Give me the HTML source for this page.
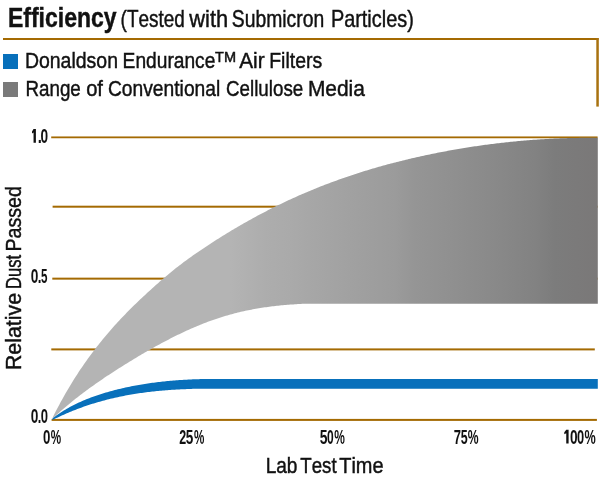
<!DOCTYPE html>
<html><head><meta charset="utf-8"><style>
html,body{margin:0;padding:0;background:#fff;}
body{width:600px;height:479px;overflow:hidden;}
svg{display:block;will-change:transform;}
text{font-family:"Liberation Sans",sans-serif;font-variant-ligatures:none;font-kerning:none;}
</style></head><body>
<svg width="600" height="479" viewBox="0 0 600 479">
<defs>
<linearGradient id="g" gradientUnits="userSpaceOnUse" x1="51" y1="0" x2="598" y2="0">
<stop offset="0.0000" stop-color="#b4b4b4"/>
<stop offset="0.3272" stop-color="#b4b4b4"/>
<stop offset="0.3547" stop-color="#b1b1b1"/>
<stop offset="0.3912" stop-color="#adadad"/>
<stop offset="0.4369" stop-color="#aaaaaa"/>
<stop offset="0.4826" stop-color="#a6a6a6"/>
<stop offset="0.5466" stop-color="#a1a1a1"/>
<stop offset="0.6289" stop-color="#9b9b9b"/>
<stop offset="0.6654" stop-color="#959595"/>
<stop offset="0.7294" stop-color="#909090"/>
<stop offset="0.8117" stop-color="#898989"/>
<stop offset="0.8848" stop-color="#828282"/>
<stop offset="0.9214" stop-color="#7c7c7c"/>
<stop offset="1.0000" stop-color="#7a7878"/>
</linearGradient>
</defs>
<g fill="#111" stroke="#111" stroke-width="0.45">
<text x="8.00" y="26.50" font-size="27.00" font-weight="bold" textLength="108.50" lengthAdjust="spacingAndGlyphs">Efficiency</text>
<text x="120.58" y="26.50" font-size="24.00" textLength="64.19" lengthAdjust="spacingAndGlyphs">(Tested</text>
<text x="189.35" y="26.50" font-size="24.00" textLength="38.85" lengthAdjust="spacingAndGlyphs">with</text>
<text x="231.81" y="26.50" font-size="24.00" textLength="92.45" lengthAdjust="spacingAndGlyphs">Submicron</text>
<text x="330.88" y="26.50" font-size="24.00" textLength="82.94" lengthAdjust="spacingAndGlyphs">Particles)</text>
<text x="24.90" y="67.60" font-size="22.50" textLength="93.08" lengthAdjust="spacingAndGlyphs">Donaldson</text>
<text x="122.62" y="67.60" font-size="22.50" textLength="92.75" lengthAdjust="spacingAndGlyphs">Endurance</text>
<text x="239.15" y="67.60" font-size="22.50" textLength="25.41" lengthAdjust="spacingAndGlyphs">Air</text>
<text x="269.20" y="67.60" font-size="22.50" textLength="52.99" lengthAdjust="spacingAndGlyphs">Filters</text>
<text x="215.00" y="61.50" font-size="13.80" textLength="21.00" lengthAdjust="spacingAndGlyphs">TM</text>
<text x="25.45" y="95.70" font-size="22.50" textLength="55.38" lengthAdjust="spacingAndGlyphs">Range</text>
<text x="86.15" y="95.70" font-size="22.50" textLength="16.82" lengthAdjust="spacingAndGlyphs">of</text>
<text x="107.92" y="95.70" font-size="22.50" textLength="112.36" lengthAdjust="spacingAndGlyphs">Conventional</text>
<text x="226.04" y="95.70" font-size="22.50" textLength="77.19" lengthAdjust="spacingAndGlyphs">Cellulose</text>
<text x="307.88" y="95.70" font-size="22.50" textLength="57.05" lengthAdjust="spacingAndGlyphs">Media</text>
</g>
<rect x="3" y="38" width="595.5" height="2" fill="#a46a02"/>
<rect x="596.3" y="38" width="2.5" height="68.6" fill="#a87210"/>
<rect x="3" y="54" width="15" height="15" fill="#0870bb"/>
<rect x="3" y="82" width="15" height="15" fill="#7a7a7a"/>
<rect x="51.2" y="136.45" width="546.40" height="1.8" fill="#a46a02"/><rect x="52.6" y="205.70" width="545.00" height="2.0" fill="#a46a02"/><rect x="52.3" y="277.65" width="545.30" height="2.0" fill="#a46a02"/><rect x="51.3" y="348.40" width="543.50" height="2.0" fill="#a46a02"/><rect x="51.6" y="418.90" width="545.30" height="2.0" fill="#a46a02"/>
<path d="M51.8,419.80 53.3,416.29 54.8,413.30 56.3,410.37 57.8,407.49 59.3,404.66 60.8,401.87 62.3,399.14 63.8,396.45 65.3,393.80 66.8,391.20 68.3,388.65 69.8,386.13 71.3,383.66 72.8,381.22 74.3,378.83 75.8,376.47 77.3,374.15 78.8,371.86 80.3,369.61 81.8,367.39 83.3,365.20 84.8,363.05 86.3,360.92 87.8,358.82 89.3,356.75 90.8,354.71 92.3,352.69 93.8,350.70 95.3,348.74 96.8,346.80 98.3,344.89 99.8,343.00 101.3,341.14 102.8,339.30 104.3,337.48 105.8,335.68 107.3,333.91 108.8,332.15 110.3,330.42 111.8,328.71 113.3,327.02 114.8,325.34 116.3,323.69 117.8,322.05 119.3,320.43 120.8,318.83 122.3,317.25 123.8,315.68 125.3,314.13 126.8,312.59 128.3,311.06 129.8,309.56 131.3,308.06 132.8,306.58 134.3,305.11 135.8,303.65 137.3,302.21 138.8,300.77 140.3,299.35 141.8,297.93 143.3,296.53 144.8,295.13 146.3,293.75 147.8,292.37 149.3,290.99 150.8,289.63 152.3,288.27 153.8,286.92 155.3,285.58 156.8,284.25 158.3,282.92 159.8,281.61 161.3,280.30 162.8,279.00 164.3,277.72 165.8,276.44 167.3,275.18 168.8,273.93 170.3,272.69 171.8,271.46 173.3,270.25 174.8,269.05 176.3,267.87 177.8,266.69 179.3,265.53 180.8,264.38 182.3,263.25 183.8,262.12 185.3,261.00 186.8,259.90 188.3,258.81 189.8,257.72 191.3,256.65 192.8,255.59 194.3,254.53 195.8,253.49 197.3,252.45 198.8,251.42 200.3,250.40 201.8,249.38 203.3,248.38 204.8,247.38 206.3,246.38 207.8,245.40 209.3,244.41 210.8,243.44 212.3,242.47 213.8,241.50 215.3,240.55 216.8,239.59 218.3,238.64 219.8,237.70 221.3,236.76 222.8,235.83 224.3,234.90 225.8,233.98 227.3,233.07 228.8,232.16 230.3,231.25 231.8,230.35 233.3,229.46 234.8,228.57 236.3,227.68 237.8,226.80 239.3,225.93 240.8,225.06 242.3,224.20 243.8,223.34 245.3,222.49 246.8,221.65 248.3,220.81 249.8,219.97 251.3,219.14 252.8,218.32 254.3,217.50 255.8,216.68 257.3,215.87 258.8,215.07 260.3,214.27 261.8,213.48 263.3,212.69 264.8,211.91 266.3,211.13 267.8,210.36 269.3,209.59 270.8,208.83 272.3,208.08 273.8,207.33 275.3,206.58 276.8,205.84 278.3,205.11 279.8,204.38 281.3,203.66 282.8,202.94 284.3,202.22 285.8,201.52 287.3,200.81 288.8,200.12 290.3,199.42 291.8,198.74 293.3,198.05 294.8,197.38 296.3,196.70 297.8,196.04 299.3,195.37 300.8,194.72 302.3,194.07 303.8,193.42 305.3,192.78 306.8,192.14 308.3,191.51 309.8,190.88 311.3,190.26 312.8,189.64 314.3,189.03 315.8,188.42 317.3,187.81 318.8,187.21 320.3,186.62 321.8,186.03 323.3,185.45 324.8,184.87 326.3,184.29 327.8,183.72 329.3,183.15 330.8,182.59 332.3,182.03 333.8,181.48 335.3,180.93 336.8,180.39 338.3,179.85 339.8,179.31 341.3,178.78 342.8,178.26 344.3,177.73 345.8,177.22 347.3,176.70 348.8,176.19 350.3,175.69 351.8,175.19 353.3,174.69 354.8,174.20 356.3,173.71 357.8,173.22 359.3,172.74 360.8,172.27 362.3,171.80 363.8,171.33 365.3,170.87 366.8,170.41 368.3,169.95 369.8,169.50 371.3,169.05 372.8,168.61 374.3,168.17 375.8,167.73 377.3,167.30 378.8,166.87 380.3,166.44 381.8,166.02 383.3,165.60 384.8,165.19 386.3,164.78 387.8,164.37 389.3,163.97 390.8,163.57 392.3,163.18 393.8,162.78 395.3,162.40 396.8,162.01 398.3,161.63 399.8,161.25 401.3,160.88 402.8,160.51 404.3,160.14 405.8,159.77 407.3,159.41 408.8,159.06 410.3,158.70 411.8,158.35 413.3,158.00 414.8,157.66 416.3,157.32 417.8,156.98 419.3,156.65 420.8,156.32 422.3,155.99 423.8,155.66 425.3,155.34 426.8,155.02 428.3,154.71 429.8,154.39 431.3,154.08 432.8,153.78 434.3,153.47 435.8,153.17 437.3,152.87 438.8,152.58 440.3,152.29 441.8,152.00 443.3,151.71 444.8,151.43 446.3,151.15 447.8,150.87 449.3,150.59 450.8,150.32 452.3,150.05 453.8,149.79 455.3,149.52 456.8,149.26 458.3,149.00 459.8,148.75 461.3,148.50 462.8,148.25 464.3,148.00 465.8,147.76 467.3,147.52 468.8,147.28 470.3,147.05 471.8,146.82 473.3,146.59 474.8,146.36 476.3,146.14 477.8,145.92 479.3,145.70 480.8,145.49 482.3,145.28 483.8,145.07 485.3,144.87 486.8,144.66 488.3,144.47 489.8,144.27 491.3,144.08 492.8,143.89 494.3,143.70 495.8,143.51 497.3,143.33 498.8,143.15 500.3,142.98 501.8,142.80 503.3,142.63 504.8,142.47 506.3,142.30 507.8,142.14 509.3,141.98 510.8,141.83 512.3,141.67 513.8,141.53 515.3,141.38 516.8,141.23 518.3,141.09 519.8,140.96 521.3,140.82 522.8,140.69 524.3,140.56 525.8,140.43 527.3,140.31 528.8,140.19 530.3,140.07 531.8,139.96 533.3,139.85 534.8,139.74 536.3,139.63 537.8,139.53 539.3,139.43 540.8,139.34 542.3,139.24 543.8,139.15 545.3,139.06 546.8,138.98 548.3,138.90 549.8,138.82 551.3,138.74 552.8,138.67 554.3,138.60 555.8,138.53 557.3,138.47 558.8,138.41 560.3,138.35 561.8,138.29 563.3,138.24 564.8,138.19 566.3,138.15 567.8,138.10 569.3,138.06 570.8,138.02 572.3,137.99 573.8,137.96 575.3,137.93 576.8,137.90 578.3,137.88 579.8,137.86 581.3,137.85 582.8,137.83 584.3,137.82 585.8,137.81 587.3,137.81 588.8,137.81 590.3,137.81 591.8,137.81 593.3,137.82 594.8,137.83 596.3,137.84 597.8,137.86 L597.8,303.70 369.8,303.70 368.3,303.70 366.8,303.70 365.3,303.70 363.8,303.70 362.3,303.70 360.8,303.70 359.3,303.70 357.8,303.70 356.3,303.70 354.8,303.70 353.3,303.70 351.8,303.70 350.3,303.70 348.8,303.70 347.3,303.70 345.8,303.70 344.3,303.70 342.8,303.70 341.3,303.70 339.8,303.70 338.3,303.70 336.8,303.70 335.3,303.70 333.8,303.70 332.3,303.70 330.8,303.70 329.3,303.70 327.8,303.70 326.3,303.70 324.8,303.70 323.3,303.70 321.8,303.70 320.3,303.70 318.8,303.70 317.3,303.70 315.8,303.70 314.3,303.70 312.8,303.70 311.3,303.70 309.8,303.70 308.3,303.70 306.8,303.70 305.3,303.73 303.8,303.79 302.3,303.86 300.8,303.93 299.3,304.01 297.8,304.10 296.3,304.18 294.8,304.28 293.3,304.38 291.8,304.48 290.3,304.59 288.8,304.70 287.3,304.82 285.8,304.95 284.3,305.08 282.8,305.22 281.3,305.36 279.8,305.51 278.3,305.67 276.8,305.83 275.3,306.00 273.8,306.17 272.3,306.35 270.8,306.54 269.3,306.74 267.8,306.94 266.3,307.15 264.8,307.36 263.3,307.59 261.8,307.82 260.3,308.06 258.8,308.30 257.3,308.55 255.8,308.82 254.3,309.08 252.8,309.36 251.3,309.65 249.8,309.94 248.3,310.24 246.8,310.55 245.3,310.87 243.8,311.19 242.3,311.53 240.8,311.87 239.3,312.23 237.8,312.59 236.3,312.96 234.8,313.34 233.3,313.73 231.8,314.13 230.3,314.54 228.8,314.95 227.3,315.38 225.8,315.82 224.3,316.27 222.8,316.72 221.3,317.19 219.8,317.67 218.3,318.16 216.8,318.65 215.3,319.16 213.8,319.68 212.3,320.21 210.8,320.75 209.3,321.30 207.8,321.85 206.3,322.42 204.8,323.00 203.3,323.58 201.8,324.18 200.3,324.78 198.8,325.39 197.3,326.01 195.8,326.64 194.3,327.28 192.8,327.93 191.3,328.59 189.8,329.25 188.3,329.93 186.8,330.61 185.3,331.30 183.8,331.99 182.3,332.70 180.8,333.41 179.3,334.13 177.8,334.86 176.3,335.59 174.8,336.34 173.3,337.09 171.8,337.85 170.3,338.61 168.8,339.38 167.3,340.16 165.8,340.94 164.3,341.74 162.8,342.54 161.3,343.34 159.8,344.15 158.3,344.97 156.8,345.79 155.3,346.62 153.8,347.46 152.3,348.30 150.8,349.15 149.3,350.00 147.8,350.86 146.3,351.72 144.8,352.59 143.3,353.47 141.8,354.35 140.3,355.23 138.8,356.12 137.3,357.02 135.8,357.92 134.3,358.82 132.8,359.73 131.3,360.64 129.8,361.56 128.3,362.48 126.8,363.41 125.3,364.34 123.8,365.27 122.3,366.21 120.8,367.15 119.3,368.10 117.8,369.05 116.3,370.01 114.8,370.97 113.3,371.94 111.8,372.91 110.3,373.89 108.8,374.88 107.3,375.87 105.8,376.87 104.3,377.87 102.8,378.89 101.3,379.91 99.8,380.93 98.3,381.97 96.8,383.01 95.3,384.07 93.8,385.13 92.3,386.20 90.8,387.27 89.3,388.36 87.8,389.46 86.3,390.57 84.8,391.68 83.3,392.81 81.8,393.95 80.3,395.09 78.8,396.25 77.3,397.42 75.8,398.60 74.3,399.80 72.8,401.00 71.3,402.22 69.8,403.45 68.3,404.69 66.8,405.94 65.3,407.21 63.8,408.49 62.3,409.78 60.8,411.09 59.3,412.41 57.8,413.74 56.3,415.09 54.8,416.46 53.3,417.83 51.8,419.80 Z" fill="url(#g)"/>
<path d="M51.8,419.80 53.3,417.86 54.8,416.71 56.3,415.59 57.8,414.51 59.3,413.47 60.8,412.46 62.3,411.49 63.8,410.55 65.3,409.63 66.8,408.75 68.3,407.89 69.8,407.07 71.3,406.26 72.8,405.48 74.3,404.73 75.8,404.00 77.3,403.28 78.8,402.59 80.3,401.91 81.8,401.26 83.3,400.61 84.8,399.99 86.3,399.37 87.8,398.78 89.3,398.19 90.8,397.62 92.3,397.06 93.8,396.52 95.3,395.99 96.8,395.47 98.3,394.96 99.8,394.47 101.3,393.99 102.8,393.52 104.3,393.06 105.8,392.61 107.3,392.17 108.8,391.74 110.3,391.32 111.8,390.91 113.3,390.51 114.8,390.12 116.3,389.74 117.8,389.37 119.3,389.00 120.8,388.65 122.3,388.30 123.8,387.96 125.3,387.62 126.8,387.29 128.3,386.98 129.8,386.66 131.3,386.36 132.8,386.06 134.3,385.77 135.8,385.49 137.3,385.21 138.8,384.94 140.3,384.68 141.8,384.43 143.3,384.18 144.8,383.94 146.3,383.70 147.8,383.48 149.3,383.25 150.8,383.04 152.3,382.83 153.8,382.63 155.3,382.43 156.8,382.24 158.3,382.06 159.8,381.88 161.3,381.71 162.8,381.54 164.3,381.38 165.8,381.23 167.3,381.08 168.8,380.94 170.3,380.80 171.8,380.67 173.3,380.54 174.8,380.42 176.3,380.30 177.8,380.19 179.3,380.09 180.8,379.99 182.3,379.89 183.8,379.80 185.3,379.71 186.8,379.63 188.3,379.56 189.8,379.48 191.3,379.41 192.8,379.35 194.3,379.29 195.8,379.23 197.3,379.18 198.8,379.13 200.3,379.08 201.8,379.04 203.3,379.00 204.8,378.96 206.3,378.93 207.8,378.90 209.3,378.90 210.8,378.90 212.3,378.90 213.8,378.90 215.3,378.90 216.8,378.90 218.3,378.90 219.8,378.90 221.3,378.90 222.8,378.90 224.3,378.90 225.8,378.90 227.3,378.90 228.8,378.90 230.3,378.90 231.8,378.90 233.3,378.90 234.8,378.90 236.3,378.90 237.8,378.90 239.3,378.90 240.8,378.90 242.3,378.90 243.8,378.90 245.3,378.90 246.8,378.90 248.3,378.90 249.8,378.90 251.3,378.90 252.8,378.90 254.3,378.90 255.8,378.90 257.3,378.90 258.8,378.90 260.3,378.90 261.8,378.90 263.3,378.90 264.8,378.90 266.3,378.90 267.8,378.90 269.3,378.90 270.8,378.90 272.3,378.90 273.8,378.90 275.3,378.90 276.8,378.90 278.3,378.90 279.8,378.90 597.8,378.90 L597.8,388.80 279.8,388.80 278.3,388.80 276.8,388.80 275.3,388.80 273.8,388.80 272.3,388.80 270.8,388.80 269.3,388.80 267.8,388.80 266.3,388.80 264.8,388.80 263.3,388.80 261.8,388.80 260.3,388.80 258.8,388.80 257.3,388.80 255.8,388.80 254.3,388.80 252.8,388.80 251.3,388.80 249.8,388.80 248.3,388.80 246.8,388.80 245.3,388.80 243.8,388.80 242.3,388.80 240.8,388.80 239.3,388.80 237.8,388.80 236.3,388.80 234.8,388.80 233.3,388.80 231.8,388.80 230.3,388.80 228.8,388.80 227.3,388.80 225.8,388.80 224.3,388.80 222.8,388.80 221.3,388.80 219.8,388.80 218.3,388.80 216.8,388.80 215.3,388.80 213.8,388.80 212.3,388.80 210.8,388.80 209.3,388.80 207.8,388.80 206.3,388.80 204.8,388.80 203.3,388.80 201.8,388.80 200.3,388.80 198.8,388.80 197.3,388.80 195.8,388.80 194.3,388.82 192.8,388.87 191.3,388.91 189.8,388.96 188.3,389.02 186.8,389.07 185.3,389.13 183.8,389.20 182.3,389.27 180.8,389.34 179.3,389.41 177.8,389.49 176.3,389.58 174.8,389.67 173.3,389.76 171.8,389.86 170.3,389.96 168.8,390.07 167.3,390.18 165.8,390.30 164.3,390.42 162.8,390.55 161.3,390.68 159.8,390.82 158.3,390.96 156.8,391.11 155.3,391.26 153.8,391.42 152.3,391.58 150.8,391.75 149.3,391.93 147.8,392.11 146.3,392.30 144.8,392.50 143.3,392.70 141.8,392.90 140.3,393.12 138.8,393.34 137.3,393.56 135.8,393.80 134.3,394.04 132.8,394.28 131.3,394.54 129.8,394.80 128.3,395.07 126.8,395.34 125.3,395.62 123.8,395.91 122.3,396.21 120.8,396.52 119.3,396.83 117.8,397.15 116.3,397.48 114.8,397.81 113.3,398.16 111.8,398.51 110.3,398.87 108.8,399.24 107.3,399.62 105.8,400.00 104.3,400.40 102.8,400.80 101.3,401.21 99.8,401.63 98.3,402.06 96.8,402.50 95.3,402.95 93.8,403.41 92.3,403.87 90.8,404.35 89.3,404.84 87.8,405.33 86.3,405.84 84.8,406.35 83.3,406.87 81.8,407.41 80.3,407.95 78.8,408.51 77.3,409.07 75.8,409.65 74.3,410.23 72.8,410.83 71.3,411.43 69.8,412.05 68.3,412.68 66.8,413.32 65.3,413.97 63.8,414.63 62.3,415.30 60.8,415.98 59.3,416.68 57.8,417.38 56.3,418.10 54.8,418.83 53.3,419.57 51.8,419.80 Z" fill="#0870bb"/>
<g fill="#111">
<path d="M33.55,129.10 L35.90,129.10 L35.90,142.80 L33.55,142.80 L33.55,132.50 L32.00,133.50 L32.00,131.50 Z"/>
<text x="37.71" y="142.80" font-size="20.00" font-weight="bold" textLength="4.09" lengthAdjust="spacingAndGlyphs">.</text>
<text x="40.45" y="142.80" font-size="20.00" font-weight="bold" textLength="7.61" lengthAdjust="spacingAndGlyphs">0</text>
<text x="30.75" y="283.10" font-size="20.00" font-weight="bold" textLength="7.61" lengthAdjust="spacingAndGlyphs">0</text>
<text x="37.70" y="283.10" font-size="20.00" font-weight="bold" textLength="3.70" lengthAdjust="spacingAndGlyphs">.</text>
<text x="41.05" y="283.10" font-size="20.00" font-weight="bold" textLength="6.48" lengthAdjust="spacingAndGlyphs">5</text>
<text x="30.75" y="423.40" font-size="20.00" font-weight="bold" textLength="7.61" lengthAdjust="spacingAndGlyphs">0</text>
<text x="37.85" y="423.40" font-size="20.00" font-weight="bold" textLength="3.51" lengthAdjust="spacingAndGlyphs">.</text>
<text x="40.68" y="423.40" font-size="20.00" font-weight="bold" textLength="7.26" lengthAdjust="spacingAndGlyphs">0</text>
<text x="42.97" y="443.50" font-size="20.00" font-weight="bold" textLength="7.38" lengthAdjust="spacingAndGlyphs">0</text>
<text x="50.81" y="443.50" font-size="20.00" font-weight="bold" textLength="10.40" lengthAdjust="spacingAndGlyphs">%</text>
<text x="179.31" y="443.50" font-size="20.00" font-weight="bold" textLength="6.95" lengthAdjust="spacingAndGlyphs">2</text>
<text x="185.84" y="443.50" font-size="20.00" font-weight="bold" textLength="7.55" lengthAdjust="spacingAndGlyphs">5</text>
<text x="193.96" y="443.50" font-size="20.00" font-weight="bold" textLength="10.35" lengthAdjust="spacingAndGlyphs">%</text>
<text x="319.83" y="443.50" font-size="20.00" font-weight="bold" textLength="7.77" lengthAdjust="spacingAndGlyphs">5</text>
<text x="327.12" y="443.50" font-size="20.00" font-weight="bold" textLength="6.67" lengthAdjust="spacingAndGlyphs">0</text>
<text x="334.20" y="443.50" font-size="20.00" font-weight="bold" textLength="10.62" lengthAdjust="spacingAndGlyphs">%</text>
<text x="453.85" y="443.50" font-size="20.00" font-weight="bold" textLength="7.22" lengthAdjust="spacingAndGlyphs">7</text>
<text x="460.73" y="443.50" font-size="20.00" font-weight="bold" textLength="6.93" lengthAdjust="spacingAndGlyphs">5</text>
<text x="467.80" y="443.50" font-size="20.00" font-weight="bold" textLength="10.83" lengthAdjust="spacingAndGlyphs">%</text>
<path d="M566.25,429.80 L568.60,429.80 L568.60,443.50 L566.25,443.50 L566.25,433.20 L564.30,434.20 L564.30,432.20 Z"/>
<text x="569.95" y="443.50" font-size="20.00" font-weight="bold" textLength="7.61" lengthAdjust="spacingAndGlyphs">0</text>
<text x="577.09" y="443.50" font-size="20.00" font-weight="bold" textLength="7.14" lengthAdjust="spacingAndGlyphs">0</text>
<text x="584.38" y="443.50" font-size="20.00" font-weight="bold" textLength="11.25" lengthAdjust="spacingAndGlyphs">%</text>
<g stroke="#111" stroke-width="0.45">
<text x="265.64" y="472.80" font-size="22.00" textLength="31.79" lengthAdjust="spacingAndGlyphs">Lab</text>
<text x="300.35" y="472.80" font-size="22.00" textLength="36.28" lengthAdjust="spacingAndGlyphs">Test</text>
<text x="339.24" y="472.80" font-size="22.00" textLength="44.36" lengthAdjust="spacingAndGlyphs">Time</text>
<text transform="translate(21.00,368.30) rotate(-90)" x="-1.75" y="0" font-size="22.00" textLength="77.10" lengthAdjust="spacingAndGlyphs">Relative</text>
<text transform="translate(21.00,287.60) rotate(-90)" x="-1.36" y="0" font-size="22.00" textLength="34.10" lengthAdjust="spacingAndGlyphs">Dust</text>
<text transform="translate(21.00,250.00) rotate(-90)" x="-1.61" y="0" font-size="22.00" textLength="65.59" lengthAdjust="spacingAndGlyphs">Passed</text>
</g>
</g>
</svg>
</body></html>
